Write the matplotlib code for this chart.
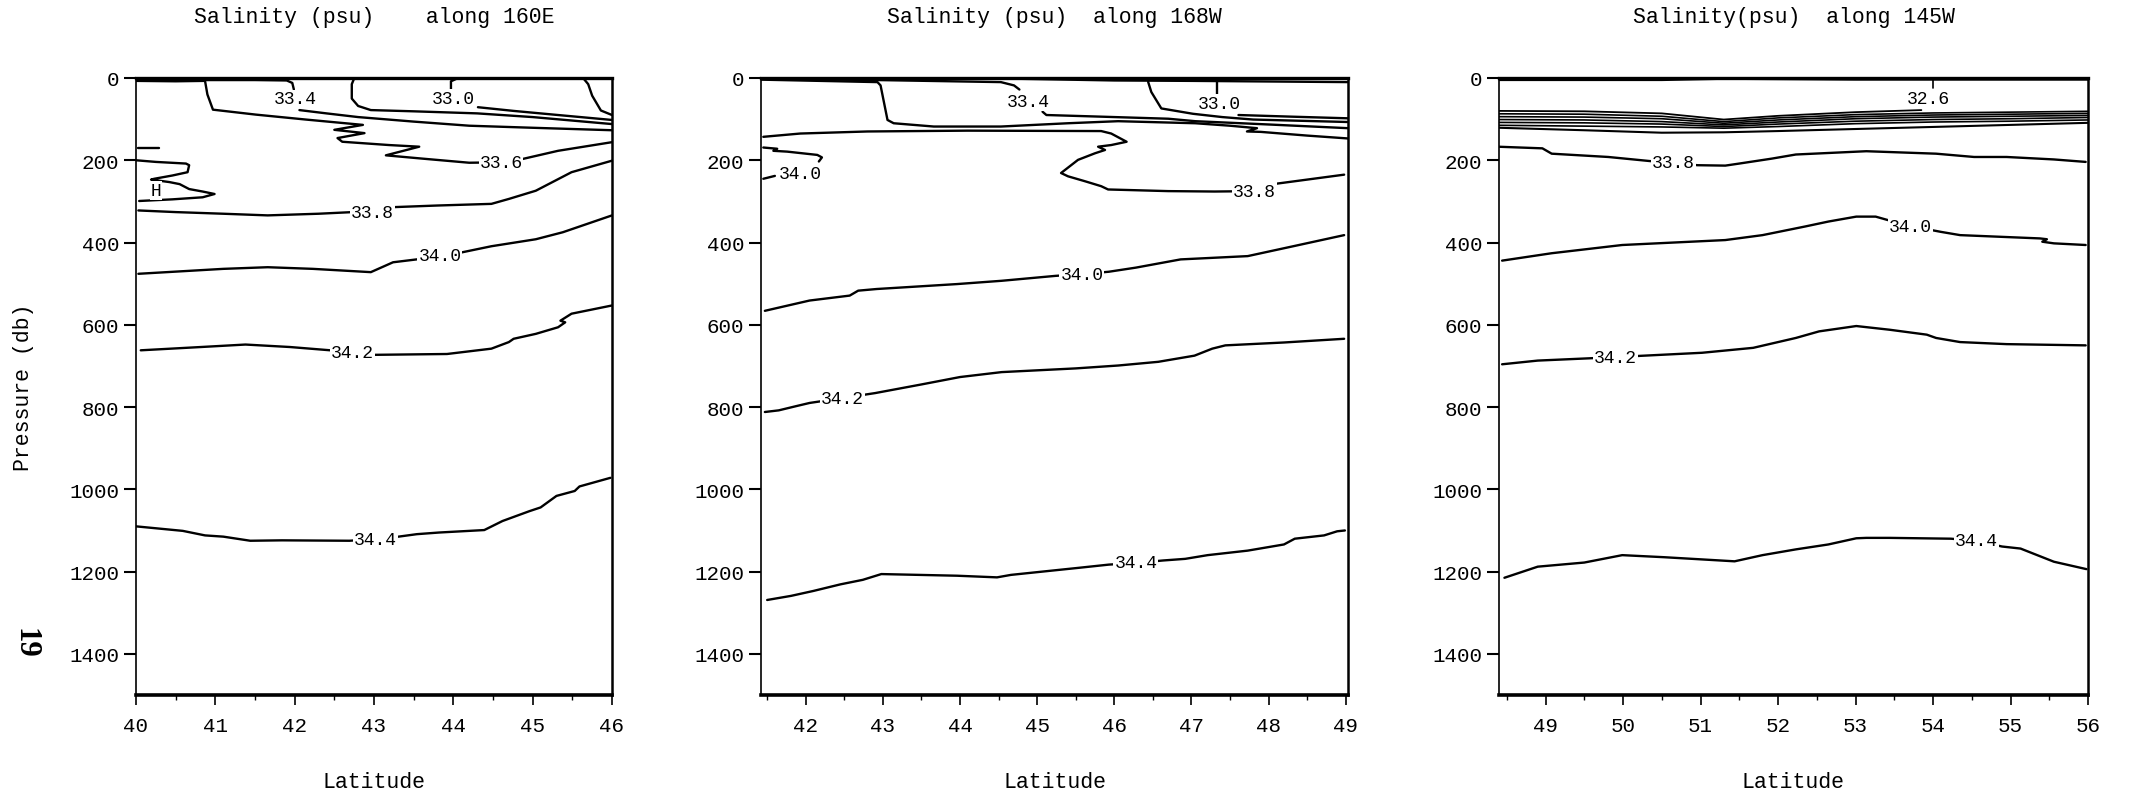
import matplotlib
matplotlib.use("Agg")
import matplotlib.pyplot as plt
from matplotlib.ticker import MultipleLocator

plt.rcParams["font.family"] = ["Liberation Mono", "DejaVu Sans Mono"]

# ------------- section along 160E -------------
e160_s328_lat = [45.64, 45.70, 45.75, 45.86, 46.0]
e160_s328_p = [1, 15, 43, 79, 90]
e160_s330a_lat = [44.05, 43.97, 43.97]
e160_s330a_p = [1, 8, 28]
e160_s330b_lat = [44.31, 44.76, 45.32, 46.0]
e160_s330b_p = [71, 80, 90, 102]
e160_s332_lat = [42.75, 42.72, 42.72, 42.80, 42.96, 43.5, 44.3, 45.0, 46.0]
e160_s332_p = [1, 15, 50, 68, 78, 81, 86, 95, 112]
e160_s334a_lat = [40.0, 40.9, 41.5, 41.9, 41.97, 41.99]
e160_s334a_p = [4, 5, 5, 6, 12, 28]
e160_s334b_lat = [42.06, 42.4, 42.8, 43.5, 44.2, 45.0, 46.0]
e160_s334b_p = [78, 86, 95, 106, 116, 121, 127]
e160_s336_lat = [40.0, 40.5, 40.87, 40.9, 40.97, 41.51, 42.14, 42.86, 42.50, 42.88,
                 42.54, 42.60, 43.19, 43.57, 43.15, 43.61, 44.2, 44.6, 44.87, 45.32, 46.0]
e160_s336_p = [7, 8, 7, 40, 77, 89, 101, 114, 126, 134,
               146, 155, 163, 167, 188, 196, 206, 205, 197, 177, 156]
e160_short_lat = [40.02, 40.29]
e160_short_p = [170, 170]
e160_loop_lat = [40.0, 40.25, 40.63, 40.67, 40.65, 40.46, 40.23, 40.19, 40.42, 40.55,
                 40.67, 40.84, 40.99, 40.84, 40.46, 40.04]
e160_loop_p = [200, 204, 208, 212, 229, 237, 245, 247, 253, 258,
               270, 276, 282, 290, 295, 299]
e160_s338_lat = [40.03, 40.5, 41.1, 41.66, 42.3, 42.73, 43.24, 43.8, 44.48, 44.70,
                 45.04, 45.32, 45.49, 46.0]
e160_s338_p = [322, 326, 330, 334, 330, 326, 314, 310, 306, 294,
               274, 246, 229, 201]
e160_s340_lat = [40.03, 41.10, 41.66, 42.23, 42.96, 43.24, 43.58, 43.83, 44.08, 44.48,
                 45.04, 45.38, 46.0]
e160_s340_p = [476, 464, 460, 464, 472, 448, 440, 432, 425, 409, 392, 375, 334]
e160_s342_lat = [40.06, 40.82, 41.38, 41.94, 42.45, 42.73, 43.01, 43.92, 44.48, 44.70,
                 44.76, 45.04, 45.32, 45.41, 45.35, 45.49, 46.0]
e160_s342_p = [662, 654, 648, 654, 662, 667, 673, 671, 658, 642,
               634, 622, 606, 594, 590, 573, 553]
e160_s344_lat = [40.0, 40.59, 40.87, 41.10, 41.44, 41.84, 42.69, 43.02, 43.31, 43.54,
                 43.82, 44.39, 44.62, 44.96, 45.10, 45.30, 45.53, 45.59, 45.98]
e160_s344_p = [1090, 1101, 1112, 1115, 1125, 1124, 1125, 1121, 1115, 1109,
               1105, 1099, 1077, 1053, 1044, 1016, 1004, 993, 972]
e160_lbl_txt = ["33.4", "33.0", "33.6", "33.8", "34.0", "34.2", "34.4", "H"]
e160_lbl_lat = [42.01, 44.0, 44.6, 42.98, 43.83, 42.73, 43.02, 40.25]
e160_lbl_p = [51, 49, 205, 326, 432, 667, 1121, 274]

# ------------- section along 168W -------------
w168_surf_lat = [44.8, 46.0, 47.0, 49.03]
w168_surf_p = [2, 6, 7, 10]
w168_s330a_lat = [47.33, 47.33]
w168_s330a_p = [2, 38]
w168_s330b_lat = [47.61, 48.3, 49.03]
w168_s330b_p = [90, 94, 98]
w168_s332_lat = [46.44, 46.44, 46.48, 46.61, 47.02, 47.4, 47.8, 49.03]
w168_s332_p = [1, 10, 34, 74, 87, 95, 101, 107]
w168_s334a_lat = [41.42, 42.93, 44.53, 44.70, 44.77]
w168_s334a_p = [2, 5, 10, 18, 28]
w168_s334b_lat = [45.07, 45.12, 45.83, 46.7, 47.05, 48.0, 49.03]
w168_s334b_p = [82, 90, 94, 99, 105, 113, 122]
w168_s336_lat = [41.42, 42.93, 42.97, 43.06, 43.14, 43.66, 44.53, 45.40, 46.05, 47.05,
                 47.5, 47.85, 47.72, 47.9, 48.5, 49.03]
w168_s336_p = [4, 10, 18, 102, 110, 118, 118, 110, 105, 110,
               116, 122, 130, 131, 140, 147]
w168_s338_lat = [41.45, 41.93, 42.80, 44.10, 45.83, 45.96, 46.16, 45.96, 45.79, 45.88,
                 45.75, 45.53, 45.31, 45.40, 45.62, 45.83, 45.92, 46.70, 47.3, 47.82,
                 48.1, 48.5, 48.98]
w168_s338_p = [143, 135, 130, 128, 129, 135, 155, 163, 167, 175,
               183, 199, 231, 239, 251, 263, 271, 275, 276, 275,
               257, 247, 235]
w168_s340a_lat = [41.45, 41.63, 41.58, 41.76, 42.15, 42.21, 42.17]
w168_s340a_p = [169, 172, 177, 179, 187, 193, 203]
w168_s340b_lat = [41.45, 41.6]
w168_s340b_p = [245, 238]
w168_s340_lat = [41.47, 42.05, 42.57, 42.68, 42.92, 43.96, 44.54, 45.24, 45.58, 45.93,
                 46.28, 46.86, 47.73, 48.32, 48.98]
w168_s340_p = [566, 541, 529, 517, 513, 501, 493, 481, 477, 471,
               461, 441, 433, 409, 382]
w168_s342_lat = [41.47, 41.65, 41.87, 42.05, 42.48, 42.9, 43.5, 44.0, 44.54, 45.5,
                 46.05, 46.57, 47.04, 47.27, 47.44, 48.2, 48.98]
w168_s342_p = [812, 808, 798, 790, 778, 766, 745, 727, 715, 706,
               699, 690, 675, 658, 650, 643, 634]
w168_s344_lat = [41.50, 41.81, 42.10, 42.45, 42.74, 42.98, 43.96, 44.48, 44.66, 45.12,
                 45.53, 45.93, 46.28, 46.63, 46.92, 47.21, 47.73, 48.20, 48.34, 48.72,
                 48.89, 48.99]
w168_s344_p = [1269, 1259, 1247, 1231, 1220, 1206, 1210, 1214, 1208, 1199,
               1191, 1183, 1179, 1173, 1169, 1160, 1149, 1134, 1120, 1112,
               1102, 1100]
w168_lbl_txt = ["33.4", "33.0", "34.0", "33.8", "34.0", "34.2", "34.4"]
w168_lbl_lat = [44.88, 47.36, 41.93, 47.82, 45.58, 42.48, 46.28]
w168_lbl_p = [58, 62, 232, 275, 478, 778, 1179]

# ------------- section along 145W -------------
w145_surf1_lat = [48.4, 50.5, 51.3, 53.0, 56.0]
w145_surf1_p = [5, 5, 2, 4, 4]
w145_s326a_lat = [54.0, 54.0]
w145_s326a_p = [2, 25]
w145_s326b_lat = [48.4, 49.5, 50.5, 51.3, 52.0, 53.0, 53.85]
w145_s326b_p = [80, 81, 86, 101, 92, 83, 78]
w145_band_lat = [48.4, 49.5, 50.5, 51.3, 52.0, 53.0, 54.0, 55.0, 56.0]
w145_band2_p = [87, 88, 93, 106, 97, 89, 85, 83, 81]
w145_band3_p = [94, 95, 99, 110, 102, 94, 90, 88, 86]
w145_band4_p = [101, 102, 106, 114, 107, 99, 95, 93, 91]
w145_band5_p = [108, 109, 112, 118, 112, 105, 101, 99, 96]
w145_band6_p = [115, 117, 119, 122, 118, 111, 107, 105, 102]
w145_band7_p = [121, 127, 133, 132, 129, 124, 119, 114, 109]
w145_s338_lat = [48.38, 48.96, 49.08, 49.81, 50.35, 50.65, 50.96, 51.32, 51.50, 51.92,
                 52.23, 53.14, 54.04, 54.53, 54.95, 55.56, 55.97]
w145_s338_p = [167, 171, 184, 192, 202, 206, 212, 213, 208, 196,
               186, 178, 184, 192, 192, 198, 204]
w145_s340_lat = [48.44, 49.08, 49.99, 51.32, 51.80, 52.35, 52.65, 53.01, 53.26, 53.41,
                 53.74, 54.10, 54.35, 55.38, 55.47, 55.41, 55.56, 55.97]
w145_s340_p = [444, 426, 406, 394, 382, 361, 349, 337, 337, 345,
               361, 374, 382, 390, 392, 398, 402, 406]
w145_s342_lat = [48.44, 48.90, 49.62, 49.90, 50.17, 51.02, 51.68, 52.23, 52.53, 53.01,
                 53.44, 53.92, 54.04, 54.35, 54.95, 55.97]
w145_s342_p = [696, 687, 681, 679, 676, 668, 656, 632, 616, 603,
               612, 624, 632, 642, 647, 650]
w145_s344_lat = [48.47, 48.90, 49.50, 49.99, 50.53, 51.44, 51.80, 52.23, 52.65, 53.01,
                 53.14, 53.44, 54.23, 54.56, 54.89, 55.13, 55.56, 55.98]
w145_s344_p = [1215, 1188, 1178, 1160, 1165, 1175, 1160, 1146, 1134, 1119,
               1118, 1118, 1120, 1125, 1139, 1144, 1176, 1194]
w145_lbl_txt = ["32.6", "33.8", "34.0", "34.2", "34.4"]
w145_lbl_lat = [53.94, 50.65, 53.71, 49.9, 54.56]
w145_lbl_p = [50, 206, 362, 679, 1125]

titles = ["Salinity (psu)    along 160E",
          "Salinity (psu)  along 168W",
          "Salinity(psu)  along 145W"]
xlims = [(40.0, 46.0), (41.42, 49.03), (48.4, 56.0)]
xmajor = [list(range(40, 47)), list(range(42, 50)), list(range(49, 57))]
yticks = [0, 200, 400, 600, 800, 1000, 1200, 1400]

# ---------------------------------------
W, H = 2132, 803
fig = plt.figure(figsize=(W / 100, H / 100), dpi=100)

boxes = [(136, 476), (761, 587), (1499, 589)]   # left, width in pixels
top_px, bot_px = 79, 696

# (lat, pressure, linewidth)
panels = [
    [(e160_s328_lat, e160_s328_p, 1.7), (e160_s330a_lat, e160_s330a_p, 1.7),
     (e160_s330b_lat, e160_s330b_p, 1.7), (e160_s332_lat, e160_s332_p, 1.7),
     (e160_s334a_lat, e160_s334a_p, 1.7), (e160_s334b_lat, e160_s334b_p, 1.7),
     (e160_s336_lat, e160_s336_p, 1.7), (e160_short_lat, e160_short_p, 1.7),
     (e160_loop_lat, e160_loop_p, 1.7), (e160_s338_lat, e160_s338_p, 1.7),
     (e160_s340_lat, e160_s340_p, 1.7), (e160_s342_lat, e160_s342_p, 1.7),
     (e160_s344_lat, e160_s344_p, 1.7)],
    [(w168_surf_lat, w168_surf_p, 1.7), (w168_s330a_lat, w168_s330a_p, 1.7),
     (w168_s330b_lat, w168_s330b_p, 1.7), (w168_s332_lat, w168_s332_p, 1.7),
     (w168_s334a_lat, w168_s334a_p, 1.7), (w168_s334b_lat, w168_s334b_p, 1.7),
     (w168_s336_lat, w168_s336_p, 1.7), (w168_s338_lat, w168_s338_p, 1.7),
     (w168_s340a_lat, w168_s340a_p, 1.7), (w168_s340b_lat, w168_s340b_p, 1.7),
     (w168_s340_lat, w168_s340_p, 1.7), (w168_s342_lat, w168_s342_p, 1.7),
     (w168_s344_lat, w168_s344_p, 1.7)],
    [(w145_surf1_lat, w145_surf1_p, 1.5),
     (w145_s326a_lat, w145_s326a_p, 1.2), (w145_s326b_lat, w145_s326b_p, 1.3),
     (w145_band_lat, w145_band2_p, 1.2), (w145_band_lat, w145_band3_p, 1.2),
     (w145_band_lat, w145_band4_p, 1.2), (w145_band_lat, w145_band5_p, 1.2),
     (w145_band_lat, w145_band6_p, 1.2), (w145_band_lat, w145_band7_p, 1.5),
     (w145_s338_lat, w145_s338_p, 1.7), (w145_s340_lat, w145_s340_p, 1.7),
     (w145_s342_lat, w145_s342_p, 1.7), (w145_s344_lat, w145_s344_p, 1.7)],
]
labels = [(e160_lbl_txt, e160_lbl_lat, e160_lbl_p),
          (w168_lbl_txt, w168_lbl_lat, w168_lbl_p),
          (w145_lbl_txt, w145_lbl_lat, w145_lbl_p)]

for i, (left, width) in enumerate(boxes):
    ax = fig.add_axes([left / W, 1 - bot_px / H, width / W, (bot_px - top_px) / H])
    for lat, p, lw in panels[i]:
        ax.plot(lat, p, color="black", lw=lw, solid_joinstyle="round",
                solid_capstyle="round", zorder=3)
    for txt, lat, p in zip(*labels[i]):
        ax.text(lat, p, txt, fontsize=13, ha="center", va="center", zorder=5,
                bbox=dict(facecolor="white", edgecolor="none", pad=0.6))

    ax.set_xlim(*xlims[i])
    ax.set_ylim(1500, 0)
    ax.set_xticks(xmajor[i])
    ax.xaxis.set_minor_locator(MultipleLocator(0.5))
    ax.set_yticks(yticks)
    ax.tick_params(axis="y", direction="out", length=9, width=1.5, labelsize=15, pad=3)
    ax.tick_params(axis="x", which="major", direction="out", length=7, width=1.2,
                   labelsize=15, pad=8)
    ax.tick_params(axis="x", which="minor", direction="out", length=3.5, width=1.0)
    ax.spines["top"].set_linewidth(2.4)
    ax.spines["bottom"].set_linewidth(2.6)
    ax.spines["left"].set_linewidth(1.2)
    ax.spines["right"].set_linewidth(1.8)

    cx = (left + width / 2) / W
    fig.text(cx, 1 - 18 / H, titles[i], fontsize=15.5, ha="center", va="center")
    fig.text(cx, 1 - 783 / H, "Latitude", fontsize=15.5, ha="center", va="center")

fig.text(24 / W, 1 - 387 / H, "Pressure (db)", fontsize=15.5, rotation=90,
         ha="center", va="center")
fig.text(25 / W, 1 - 643 / H, "19", fontsize=22, rotation=-90, ha="center",
         va="center", family=["Liberation Serif", "DejaVu Serif"], fontweight="bold")

fig.savefig("out.png", dpi=100)
